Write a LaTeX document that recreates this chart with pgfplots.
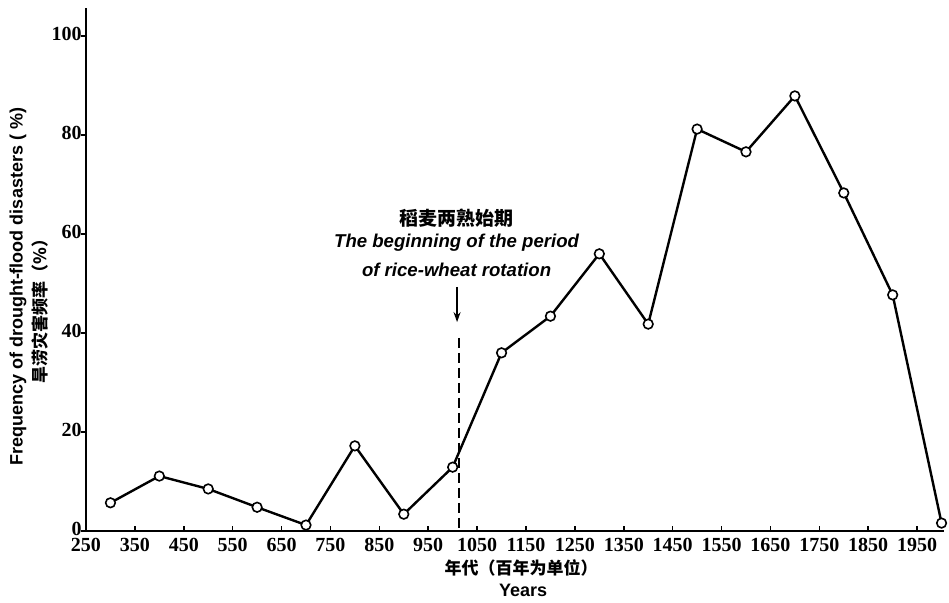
\documentclass[border=0pt]{standalone}
\usepackage{pgfplots}
\pgfplotsset{compat=1.18}
\usetikzlibrary{arrows.meta}
\usepackage{fontspec}
\setmainfont{Liberation Serif}
\newfontfamily\sansf{Liberation Sans}
\newfontfamily\cjk{Noto Sans CJK SC}
\begin{document}
\begin{tikzpicture}
\useasboundingbox (-43pt,-35.5pt) rectangle (431.5pt,265.5pt);
\begin{axis}[
  at={(0pt,0pt)}, anchor=south west,
  scale only axis, width=429pt, height=261.5pt,
  xmin=250, xmax=2005, ymin=0, ymax=105.66,
  axis x line*=bottom, axis y line*=left,
  xtick={250,350,...,1950}, ytick={0,20,...,100},
  tick align=inside,
  major tick length=2.5pt,
  ytick style={xshift=-2.5pt},
  tick style={line width=0.8pt, black},
  axis line style={line width=1pt},
  /pgf/number format/assume math mode=true,
  /pgf/number format/1000 sep={},
  tick label style={font=\bfseries\fontsize{10}{12}\selectfont},
  xticklabel style={inner sep=1pt, yshift=-2.5pt},
  yticklabel style={inner sep=2pt, yshift=1.2pt},
  clip=false,
]
\addplot[black, line width=1.2pt, mark=*, mark size=2.4pt,
  mark options={fill=white, draw=black, line width=0.8pt}] coordinates {
  (300,5.7) (400,11.1) (500,8.5) (600,4.8) (700,1.2) (800,17.2)
  (900,3.4) (1000,12.9) (1100,36.0) (1200,43.4) (1300,56.0) (1400,41.8)
  (1500,81.2) (1600,76.6) (1700,87.9) (1800,68.3) (1900,47.7) (2000,1.6)
};
\draw[line width=1.2pt, dash pattern=on 5pt off 2.5pt] (axis cs:1013,39) -- (axis cs:1013,0);
\draw[-{Stealth[length=5pt,width=3.5pt]}, line width=0.8pt] (axis cs:1009,49.3) -- (axis cs:1009,42.2);
\node[font=\cjk\bfseries\fontsize{9.5}{11}\selectfont] at (axis cs:1008,63.2) {稻麦两熟始期};
\node[font=\sansf\bfseries\itshape\fontsize{9.3}{11}\selectfont] at (axis cs:1008,58.2) {The beginning of the period};
\node[font=\sansf\bfseries\itshape\fontsize{9.3}{11}\selectfont] at (axis cs:1008,52.7) {of rice-wheat rotation};
\node[rotate=90, font=\sansf\bfseries\fontsize{9}{11}\selectfont] at (axis cs:111,49.3) {Frequency of drought-flood disasters ( \%)};
\node[rotate=90, font=\cjk\bfseries\fontsize{8.5}{10}\selectfont] at (axis cs:156,45.3) {旱涝灾害频率（\%）};
\node[font=\cjk\bfseries\fontsize{8.5}{10}\selectfont] at (axis cs:1140,-7.5) {年代（百年为单位）};
\node[font=\sansf\bfseries\fontsize{9}{11}\selectfont] at (axis cs:1144,-11.9) {Years};
\end{axis}
\end{tikzpicture}
\end{document}
